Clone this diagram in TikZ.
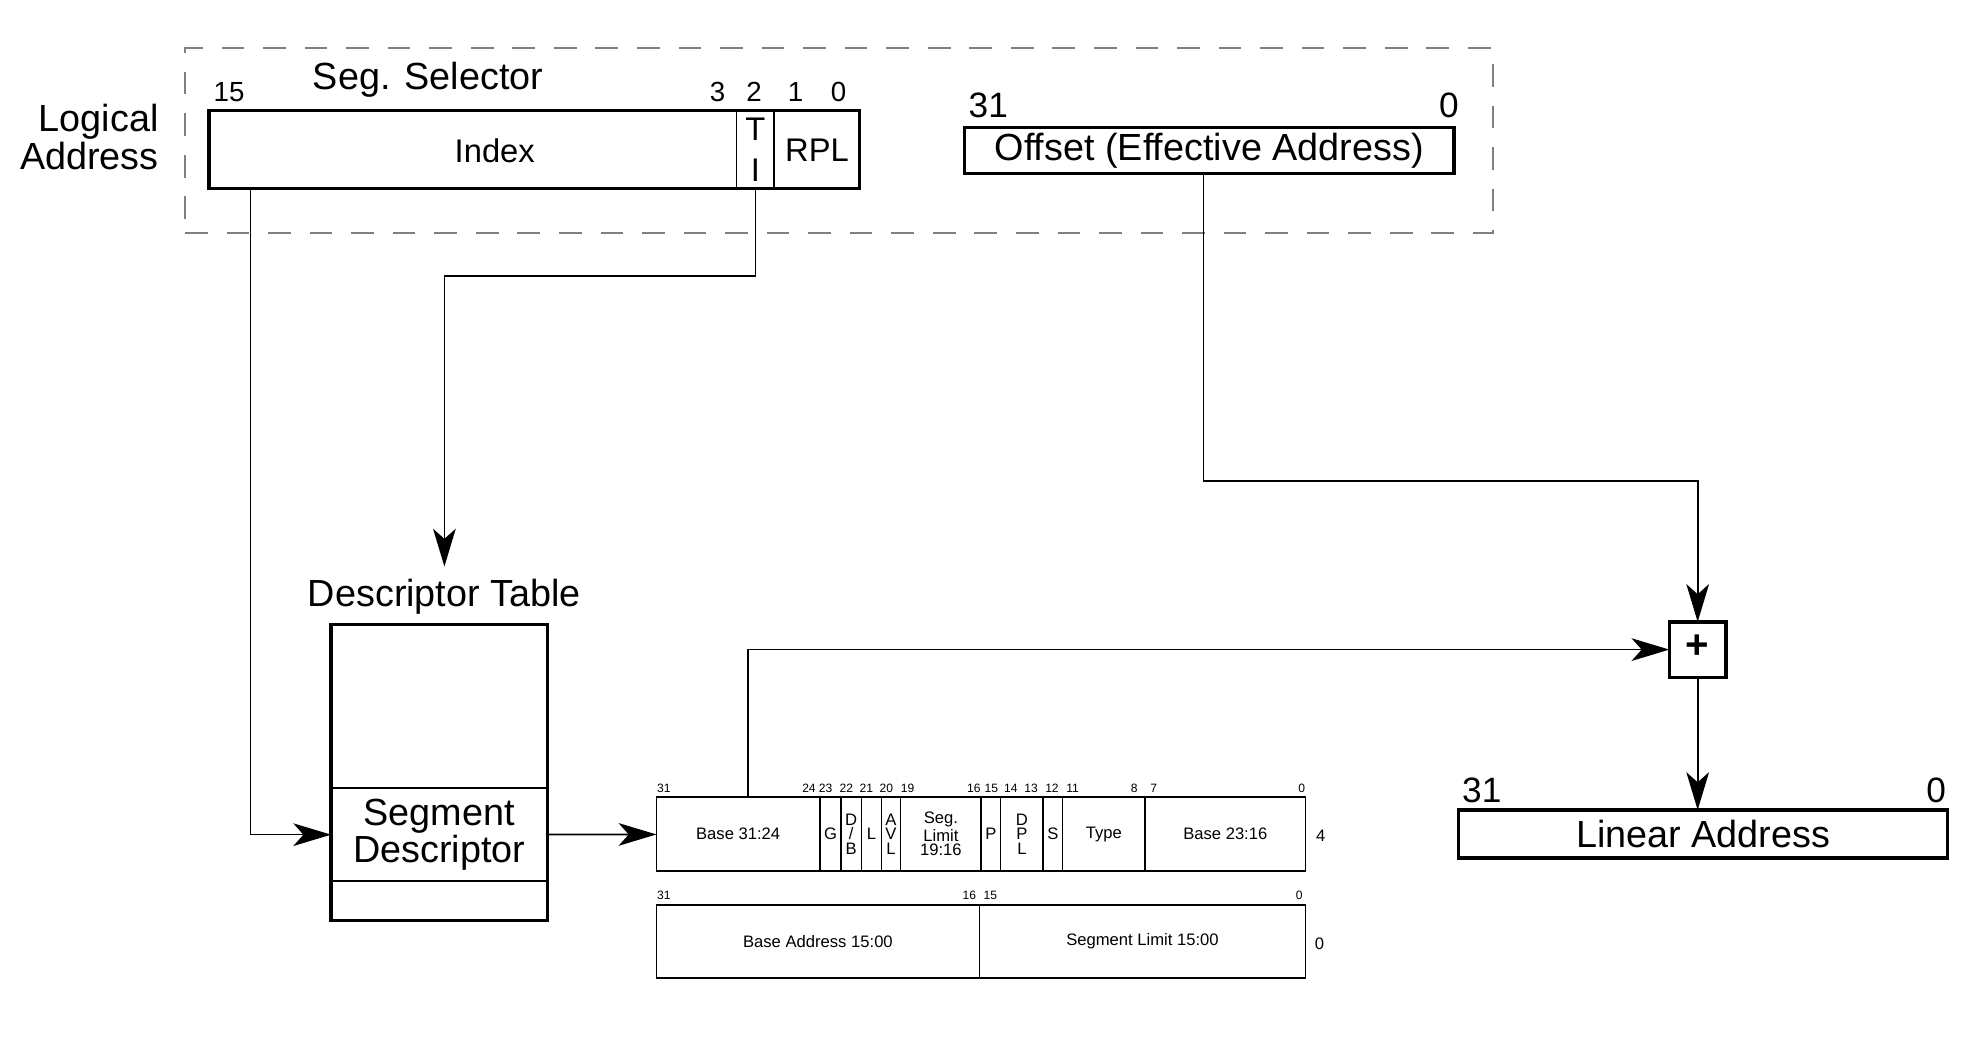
\documentclass[tikz,border=0pt]{standalone}
\usepackage{fontspec}
\setmainfont{Liberation Sans}
\usetikzlibrary{arrows.meta,fit}

\begin{document}
\begin{tikzpicture}
  [x=0.5pt,y=-0.5pt,
   every node/.style={inner sep=0pt,outer sep=0pt},
   bigtext/.style={font=\fontsize{15}{15.2}\selectfont},
   bignum/.style={font=\fontsize{14}{14}\selectfont},
   midtext/.style={font=\fontsize{13}{16}\selectfont,align=center},
   bitno/.style={font=\fontsize{11}{12}\selectfont},
   fieldtext/.style={font=\fontsize{6.6}{5.7}\selectfont,align=center},
   tinybits/.style={font=\fontsize{4.8}{5}\selectfont},
   field/.style={draw,line width=0.6pt},
   outline/.style={draw,line width=1.3pt},
   dashframe/.style={draw=black!50,line width=1pt,dash pattern=on 9pt off 7.5pt},
   wire/.style={line width=0.65pt},
   arr/.style={wire,-{Stealth[length=15pt,width=9pt,inset=4pt]}}]

  \useasboundingbox (0,0) rectangle (1568,823);

  % logical address
  \node[dashframe,fit={(147,38) (1186,185)}] (logical) {};
  \node[bigtext,align=right,anchor=east] (logtitle) at (126,109) {Logical\\Address};
  \node[bigtext] (seltitle) at (340,63) {Seg. Selector};
  \node[field,fit={(166,88) (585,150)}] (index) {};
  \node[field,fit={(585,88) (615,150)}] (ti) {};
  \node[field,fit={(615,88) (683,150)}] (rpl) {};
  \node[outline,fit=(index) (rpl)] (selector) {};
  \node[midtext] (indext) at (393,120) {Index};
  \node[midtext] (tit) at (ti) {T\\I};
  \node[midtext] (rplt) at (rpl) {RPL};
  \foreach \x/\n in {182/15,570/3,599/2,632/1,666/0}
    \node[bitno] (sel\n) at (\x,73) {\n};

  \node[outline,fit={(766,101) (1155,138)}] (offset) {};
  \node[bigtext] (offsett) at (offset) {Offset (Effective Address)};
  \node[bignum] (off31) at (785,84) {31};
  \node[bignum] (off0) at (1151,84) {0};

  % descriptor table
  \node[bigtext,outer sep=5pt] (dtitle) at (353,474) {Descriptor Table};
  \node[field,fit={(263,496) (435,626)}] (dtop) {};
  \node[field,fit={(263,626) (435,700)}] (segdesc) {};
  \node[field,fit={(263,700) (435,731)}] (dbot) {};
  \node[outline,fit=(dtop) (dbot)] (dtable) {};
  \node[font=\fontsize{15}{13.2}\selectfont,align=center] (segdesct) at (segdesc) {Segment\\Descriptor};

  % segment descriptor, upper word
  \foreach \l/\r/\nm/\txt in {521.4/651.3/base3124/{Base 31:24}, 651.3/668/gran/G,
      668/684.3/db/{D\\/\\B}, 684.3/700.2/lng/L, 700.2/715.3/avl/{A\\V\\L},
      715.3/779.4/seglim/{Seg.\\Limit\\19:16}, 779.4/794.9/pres/P,
      794.9/828.6/dpl/{D\\P\\L}, 828.6/844.1/sflag/S, 844.1/909.6/dtype/Type,
      909.6/1037/base2316/{Base 23:16}}
  {
    \node[field,fit={(\l,633) (\r,692)}] (\nm) {};
    \node[fieldtext] (\nm t) at (\nm) {\txt};
  }
  \node[fit=(base3124) (base2316)] (deschi) {};
  \foreach \x/\n in {527.3/31,642.6/24,655.8/23,672.3/22,688.2/21,704/20,720.9/19,
      773.6/16,787.4/15,802.9/14,819/13,835.6/12,852/11,901/8,916.5/7,1034/0}
    \node[tinybits] (hi\n) at (\x,626) {\n};
  \node[fieldtext] (row4) at (1049,664) {4};

  % segment descriptor, lower word
  \node[field,fit={(521.4,719) (778,777)}] (baselo) {};
  \node[field,fit={(778,719) (1037,777)}] (limlo) {};
  \node[fieldtext] (baselot) at (baselo) {Base Address 15:00};
  \node[fieldtext] (limlot) at (limlo) {Segment Limit 15:00};
  \foreach \x/\n in {527.3/31,770/16,786.7/15,1032/0}
    \node[tinybits] (lo\n) at (\x,711) {\n};
  \node[fieldtext] (row0) at (1048,750) {0};

  % adder and linear address
  \node[outline,fit={(1326,494) (1371,538)}] (plus) {};
  \node[font=\fontsize{16}{16}\selectfont\bfseries] (plust) at (1348.5,514) {+};
  \node[outline,fit={(1158.5,643.4) (1547,681.6)}] (linear) {};
  \node[bigtext] (lineart) at (linear) {Linear Address};
  \node[bignum] (lin31) at (1177,627.5) {31};
  \node[bignum] (lin0) at (1538,627.5) {0};

  % connectors
  \coordinate (tibend) at (353,219);
  \coordinate (offbend) at (1348.5,382);
  \draw[arr] ([xshift=16.5pt]index.south west) |- (segdesc);
  \draw[arr] (ti.south) |- (tibend) -- (dtitle);
  \draw[arr] (segdesc) -- (deschi);
  \draw[arr] ([xshift=36.3pt]deschi.north west) |- (plus);
  \draw[arr] ([xshift=-2.25pt]offset.south) |- (offbend) -- (plus);
  \draw[arr] (plus) -- (plus |- linear.north);
\end{tikzpicture}
\end{document}
